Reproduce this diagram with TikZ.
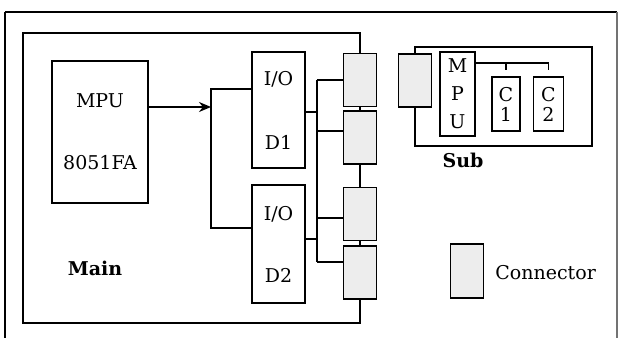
\documentclass[tikz,border=0pt]{standalone}
\usepackage{fontspec}
\setmainfont{DejaVu Serif}
\usetikzlibrary{positioning, arrows.meta}

\begin{document}
\begin{tikzpicture}[
  x=0.5pt, y=-0.5pt,
  line width=0.7pt,
  font=\fontsize{9.5}{11}\selectfont,
  box/.style={rectangle, draw, align=center, inner sep=0pt},
  conn/.style={rectangle, draw, fill=black!7, minimum width=16.5pt, minimum height=26.5pt, inner sep=0pt},
  arr/.style={-{Stealth[length=6pt, width=5pt]}},
  lbl/.style={font=\fontsize{9.5}{11}\selectfont\bfseries}
]
\useasboundingbox (0,0) rectangle (618,338);

% outer frame
\draw[line width=1pt] (5,338) -- (5,12);
\draw (5,12) -- (617,12);
\draw[black!55] (617,12) -- (617,338);

% main board
\node[box, minimum width=48pt, minimum height=71pt] (mpu) at (100,132) {MPU\\[20pt]8051FA};
\node[box, minimum width=26.5pt, minimum height=58pt] (io1) at (278.5,110) {I/O\\[21pt]D1};
\node[box, minimum width=26.5pt, minimum height=59pt] (io2) at (278.5,244) {I/O\\[20pt]D2};
\node[conn] (c1) at (360,80) {};
\node[conn, below=1.5pt of c1] (c2) {};
\node[conn] (c3) at (360,214) {};
\node[conn, below=2pt of c3] (c4) {};
\node[lbl] (main) at (95,268) {Main};

\draw (c1.north) |- (23,33) -- (23,323) -| (c4.south);
\draw (c1.south) -- (c2.north);
\draw (c2.south) -- (c3.north);
\draw (c3.south) -- (c4.north);

% mpu to i/o
\coordinate (ja) at (211,89);
\coordinate (jm) at (211,107);
\coordinate (jb) at (211,228);
\draw[arr] (mpu.east |- jm) -- (jm);
\draw (io1.west |- ja) -- (ja) -- (jb) -- (io2.west |- jb);

% bus to connectors
\coordinate (ba) at (317,80);
\coordinate (bb) at (317,262);
\draw (ba) -- (bb);
\draw (ba) -- (ba -| c1.west);
\draw (317,131) -- (c2.west |- 0,131);
\draw (317,218) -- (c3.west |- 0,218);
\draw (bb) -- (bb -| c4.west);
\draw (io1.east |- 0,112) -- (317,112);
\draw (io2.east |- 0,239) -- (317,239);

% sub board
\node[conn] (sc) at (415,80.5) {};
\node[box, minimum width=17.5pt, minimum height=42pt, font=\fontsize{9.5}{14}\selectfont] (smpu) at (457.5,94) {M\\P\\U};
\node[box, minimum width=14pt, minimum height=27pt, font=\fontsize{9.5}{10}\selectfont] (sd1) at (506,104) {C\\1};
\node[box, minimum width=15pt, minimum height=27pt, font=\fontsize{9.5}{10}\selectfont] (sd2) at (548.5,104) {C\\2};
\node[lbl] (sub) at (463,160) {Sub};

\draw (sc.north) |- (592,47) -- (592,146) -| (sc.south);
\draw (smpu.east |- 0,63) -| (sd2.north |- 0,70);
\draw (sd1.north |- 0,63) -- (sd1.north |- 0,70);

% legend
\node[conn, minimum height=27pt] (lc) at (467,271) {};
\node[anchor=west] (ltxt) at (488,273) {Connector};
\end{tikzpicture}
\end{document}
